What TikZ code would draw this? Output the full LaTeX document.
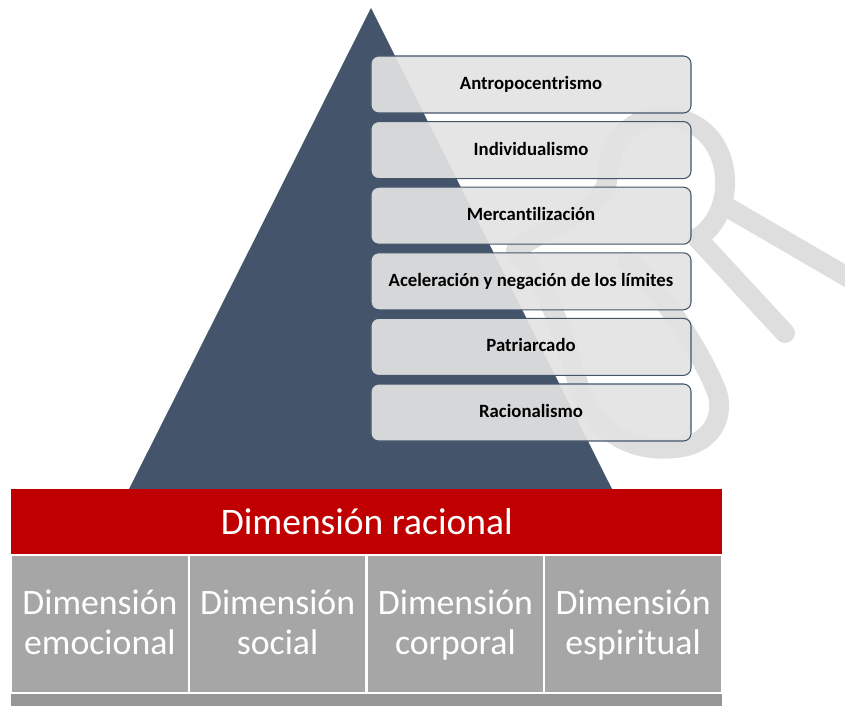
\documentclass[tikz,border=0pt]{standalone}
\usepackage{fontspec}
\setmainfont{Carlito}[Ligatures=CommonOff]
\usetikzlibrary{calc}

\definecolor{pyramid}{HTML}{44546A}
\definecolor{racional}{HTML}{C00000}
\definecolor{celda}{HTML}{A6A6A6}
\definecolor{zocalo}{HTML}{969696}
\definecolor{marca}{HTML}{DEDEDE}
\definecolor{caja}{HTML}{E3E3E3}

\begin{document}
\begin{tikzpicture}[x=0.03cm, y=-0.03cm,
    idea/.style={draw=pyramid, line width=0.9pt, fill=caja, fill opacity=0.92,
        text opacity=1, rounded corners=6.5pt, minimum width=9.6cm,
        minimum height=1.71cm, inner sep=0pt, text height=10pt, text depth=1.5pt,
        font=\fontsize{16}{19}\selectfont\bfseries},
    dimension/.style={fill=celda, draw=white, line width=1.7pt, text=white,
        minimum width=5.33cm, minimum height=4.14cm, inner sep=0pt,
        align=center, font=\fontsize{30.5}{33.3}\selectfont}]
    \useasboundingbox (0,0) rectangle (845,706);

    % watermark
    \draw[marca, line width=17pt, line cap=round, line join=round]
        (785,333) -- (697,238)
        .. controls (742,212) and (735,117) .. (662,117)
        .. controls (625,117) and (607,150) .. (607,182)
        .. controls (600,212) and (540,230) .. (516,250)
        .. controls (545,280) and (562,330) .. (577,380)
        .. controls (595,440) and (640,452) .. (676,448)
        .. controls (716,444) and (727,410) .. (714,385)
        .. controls (697,345) and (660,290) .. (628,262);
    \draw[marca, line width=17pt, line cap=round] (727,207) -- (880,296);

    % pyramid
    \fill[pyramid] (371,8) -- (612,489) -- (129,489) -- cycle;

    \foreach \name/\txt [count=\i from 0] in {antropo/Antropocentrismo,
        indiv/Individualismo, mercan/Mercantilización,
        acel/Aceleración y negación de los límites,
        patri/Patriarcado, racio/Racionalismo}
        \node[idea] (\name) at (531,{84.5+65.6*\i}) {\txt};

    % base
    \node[fill=racional, text=white, anchor=north west, minimum width=21.33cm,
        minimum height=1.95cm, inner sep=0pt,
        font=\fontsize{32}{38}\selectfont] (racional) at (11,489)
        {Dimensión racional};
    \node[dimension] (emocional) at (99.9,624) {\rule{0pt}{27.9pt}Dimensión\\emocional\strut};
    \node[dimension] (social) at (277.6,624) {\rule{0pt}{27.9pt}Dimensión\\social\strut};
    \node[dimension] (corporal) at (455.4,624) {\rule{0pt}{27.9pt}Dimensión\\corporal\strut};
    \node[dimension] (espiritual) at (633.1,624) {\rule{0pt}{27.9pt}Dimensión\\espiritual\strut};
    \fill[zocalo] (11,694) rectangle (722,710);
\end{tikzpicture}
\end{document}
